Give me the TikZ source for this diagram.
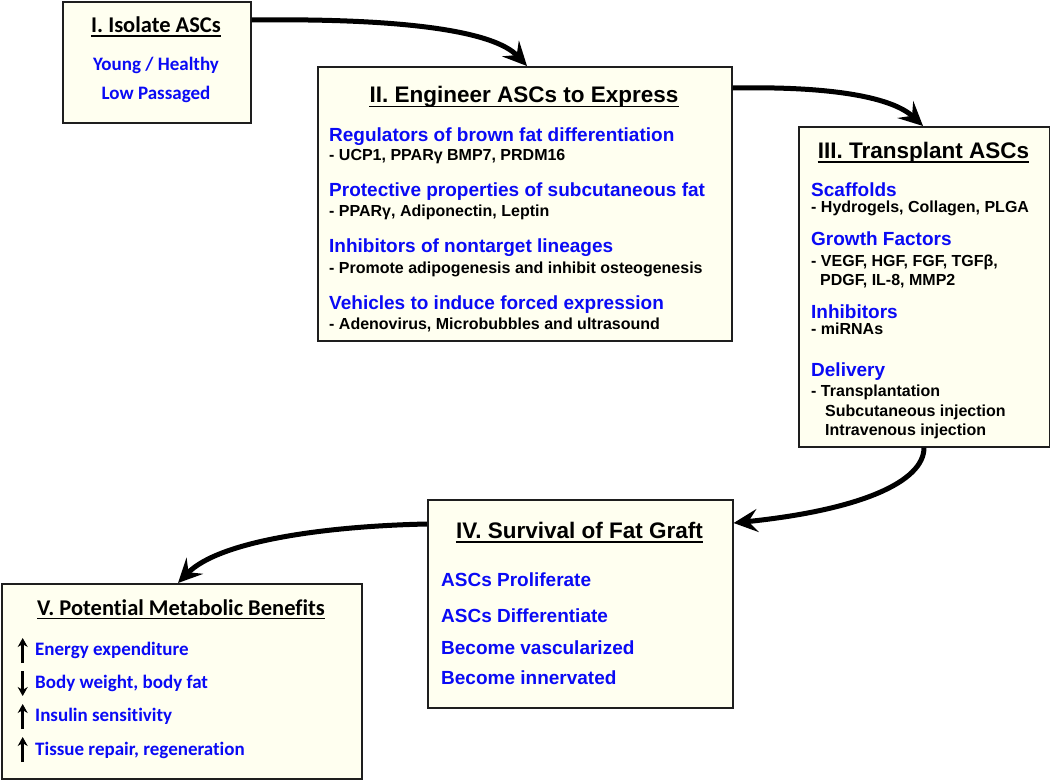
\documentclass[tikz,border=0pt]{standalone}
\usepackage{fontspec}
\setmainfont{Liberation Sans}
\newfontfamily\calfont{Carlito}[Ligatures=NoCommon]
\usetikzlibrary{arrows.meta,calc}
\definecolor{boxfill}{RGB}{255,255,240}
\definecolor{itemblue}{RGB}{10,10,245}
\definecolor{boxline}{RGB}{30,30,30}
\tikzset{
  stagebox/.style={draw=boxline, line width=1.6pt, fill=boxfill, inner sep=0pt, anchor=north west},
  ttl/.style={anchor=base, inner sep=0pt, font=\bfseries\fontsize{22.5}{27}\selectfont},
  ttlc/.style={anchor=base, inner sep=0pt, font=\calfont\bfseries\fontsize{22.5}{27}\selectfont},
  bl/.style={anchor=base west, inner sep=0pt, text=itemblue, font=\bfseries\fontsize{19}{23}\selectfont},
  blc/.style={anchor=base west, inner sep=0pt, text=itemblue, font=\calfont\bfseries\fontsize{19}{23}\selectfont},
  blcc/.style={anchor=base, inner sep=0pt, text=itemblue, font=\calfont\bfseries\fontsize{19}{23}\selectfont},
  sub/.style={anchor=base west, inner sep=0pt, font=\bfseries\fontsize{16}{19}\selectfont},
  flow/.style={line width=5pt, -{Stealth[length=24pt,width=23pt,inset=9pt]}},
  ul/.style={line width=1.4pt},
  updown/.style={line width=2.6pt, -{Stealth[length=9pt,width=10pt]}}
}
\begin{document}
\begin{tikzpicture}[x=1pt,y=-1pt]
\useasboundingbox (0,0) rectangle (1050,780);

% boxes
\node[stagebox, minimum width=188pt, minimum height=121pt] (b1) at (62,1) {};
\node[stagebox, minimum width=414pt, minimum height=274pt] (b2) at (317,66) {};
\node[stagebox, minimum width=251pt, minimum height=320pt] (b3) at (798,126) {};
\node[stagebox, minimum width=305pt, minimum height=208pt] (b4) at (427,499) {};
\node[stagebox, minimum width=360pt, minimum height=195pt] (b5) at (1,583) {};

% Box I
\node[ttlc] (t1) at (156,32.3) {I. Isolate ASCs};
\draw[ul] ($(t1.base west)+(0,3.5)$) -- ($(t1.base east)+(0,3.5)$);
\node[blcc] (i1a) at (156,70.7) {Young / Healthy};
\node[blcc] (i1b) at (156,99.3) {Low Passaged};

% Box II
\node[ttl] (t2) at (524,102.7) {II. Engineer ASCs to Express};
\draw[ul] ($(t2.base west)+(0,3.5)$) -- ($(t2.base east)+(0,3.5)$);
\node[bl]  (i2a) at (329,141)   {Regulators of brown fat differentiation};
\node[sub] (s2a) at (329,160.7) {- UCP1, PPARγ BMP7, PRDM16};
\node[bl]  (i2b) at (329,196.7) {Protective properties of subcutaneous fat};
\node[sub] (s2b) at (329,216.7) {- PPARγ, Adiponectin, Leptin};
\node[bl]  (i2c) at (329,252.7) {Inhibitors of nontarget lineages};
\node[sub] (s2c) at (329,273.3) {- Promote adipogenesis and inhibit osteogenesis};
\node[bl]  (i2d) at (329,309.3) {Vehicles to induce forced expression};
\node[sub] (s2d) at (329,329.3) {- Adenovirus, Microbubbles and ultrasound};

% Box III
\node[ttl] (t3) at (923.5,158.3) {III. Transplant ASCs};
\draw[ul] ($(t3.base west)+(0,3.5)$) -- ($(t3.base east)+(0,3.5)$);
\node[bl]  (i3a) at (811,196)   {Scaffolds};
\node[sub] (s3a) at (811,212.3) {- Hydrogels, Collagen, PLGA};
\node[bl]  (i3b) at (811,245)   {Growth Factors};
\node[sub] (s3b) at (811,266.7) {- VEGF, HGF, FGF, TGFβ,};
\node[sub] (s3c) at (820,285.7) {PDGF, IL-8, MMP2};
\node[bl]  (i3c) at (811,318.3) {Inhibitors};
\node[sub] (s3d) at (811,334.3) {- miRNAs};
\node[bl]  (i3d) at (811,376)   {Delivery};
\node[sub] (s3e) at (811,396.7) {- Transplantation};
\node[sub] (s3f) at (825,416)   {Subcutaneous injection};
\node[sub] (s3g) at (825,435)   {Intravenous injection};

% Box IV
\node[ttl] (t4) at (579.5,538.3) {IV. Survival of Fat Graft};
\draw[ul] ($(t4.base west)+(0,3.5)$) -- ($(t4.base east)+(0,3.5)$);
\node[bl] (i4a) at (441,586)   {ASCs Proliferate};
\node[bl] (i4b) at (441,622.7) {ASCs Differentiate};
\node[bl] (i4c) at (441,654)   {Become vascularized};
\node[bl] (i4d) at (441,684)   {Become innervated};

% Box V
\node[ttlc] (t5) at (181,615) {V. Potential Metabolic Benefits};
\draw[ul] ($(t5.base west)+(0,3.5)$) -- ($(t5.base east)+(0,3.5)$);
\node[blc] (i5a) at (35,655)   {Energy expenditure};
\node[blc] (i5b) at (35,688.3) {Body weight, body fat};
\node[blc] (i5c) at (35,721.7) {Insulin sensitivity};
\node[blc] (i5d) at (35,755)   {Tissue repair, regeneration};
\draw[updown] (22.7,663) -- (22.7,638);
\draw[updown] (22.7,671) -- (22.7,696);
\draw[updown] (22.7,729) -- (22.7,704);
\draw[updown] (22.7,762) -- (22.7,737);

% flow arrows
\draw[flow] ($(b1.north east)+(0,19)$) .. controls (410,18) and (495,32) .. ($(b2.north west)+(210,0)$);
\draw[flow] ($(b2.north east)+(0,22)$) .. controls (835,86) and (893,98) .. ($(b3.north west)+(125,0)$);
\draw[flow] ($(b3.south west)+(126,0)$) .. controls (924,482) and (860,510) .. ($(b4.north east)+(0,24)$);
\draw[flow] ($(b4.north west)+(0,25)$) .. controls (330,526) and (220,540) .. ($(b5.north west)+(177,0)$);
\end{tikzpicture}
\end{document}
